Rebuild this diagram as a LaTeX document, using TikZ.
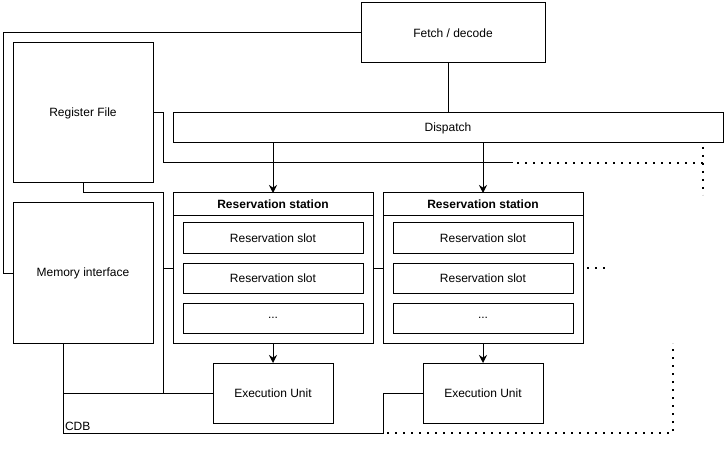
\documentclass[tikz,border=0pt]{standalone}
\usepackage{fontspec}
\setmainfont{Liberation Sans}
\usetikzlibrary{arrows.meta, positioning}

\begin{document}
\begin{tikzpicture}[x=1pt, y=-1pt, line width=1pt, >={Stealth[length=8pt, width=8pt]},
		font=\fontsize{12}{14}\selectfont,
		box/.style={draw, inner sep=0pt, outer sep=0pt, minimum width=#1},
		slot/.style={box=180pt, minimum height=30pt},
		head/.style={box=200pt, minimum height=23pt, font=\fontsize{12}{14}\selectfont\bfseries},
		dots/.style={line width=1.6pt, dash pattern=on 1.6pt off 6.4pt}]
				\useasboundingbox (0,0) rectangle (728,465);
				
				\node [box=184pt, minimum height=60pt] (fetch) at (453,33) {Fetch / decode};
				\node [box=140pt, minimum height=140pt] (regs) at (83,113) {Register File};
				\node [box=550pt, minimum height=30pt] (disp) at (448,128) {Dispatch};
				\node [box=140pt, minimum height=140pt] (mem) at (83,273) {Memory interface};
				
				% reservation stations
				\node [box=200pt, minimum height=150pt] (rs1) at (273,268) {};
				\node [head] (rs1head) at (273,204.5) {Reservation station};
				\node [slot] (rs1a) at (273,238) {Reservation slot};
				\node [slot] (rs1b) at (273,278) {Reservation slot};
				\node [slot] (rs1c) at (273,318) {...};
				
				\node [box=200pt, minimum height=150pt] (rs2) at (483,268) {};
				\node [head] (rs2head) at (483,204.5) {Reservation station};
				\node [slot] (rs2a) at (483,238) {Reservation slot};
				\node [slot] (rs2b) at (483,278) {Reservation slot};
				\node [slot] (rs2c) at (483,318) {...};
				
				\node [box=120pt, minimum height=60pt] (ex1) at (273,393) {Execution Unit};
				\node [box=120pt, minimum height=60pt] (ex2) at (483,393) {Execution Unit};
				
				\coordinate (cdb) at (63,433);
				\node [anchor=south west, inner sep=1.5pt] (cdblabel) at (cdb) {CDB};
				
				\draw (fetch.west) -- ++(-358,0) |- (mem.west);
				\draw (disp.north) -- (disp.north |- fetch.south);
				\draw [->] (disp.south -| rs1.north) -- (rs1.north);
				\draw [->] (disp.south -| rs2.north) -- (rs2.north);
				\draw [->] (rs1.south) -- (ex1.north);
				\draw [->] (rs2.south) -- (ex2.north);
				
				\draw (regs.east) -- ++(10,0) |- (513,163);
				\draw [dots] (517,163) -- (703,163);
				\draw [dots] (703,147) -- (703,195);
				
				\draw (regs.south) |- (163,193) -- (163,393);
				\draw (163,268) -- (rs1.west);
				\draw (rs1.east) -- (rs2.west);
				\draw [dots] (587,268) -- ++(18,0);
				
				\draw ([xshift=-20pt]mem.south) -- (cdb) -- (383,433) |- (ex2.west);
				\draw (cdb |- ex1.west) -- (ex1.west);
				\draw [dots] (387,433) -- (673,433) -- (673,343);
			\end{tikzpicture}
\end{document}
